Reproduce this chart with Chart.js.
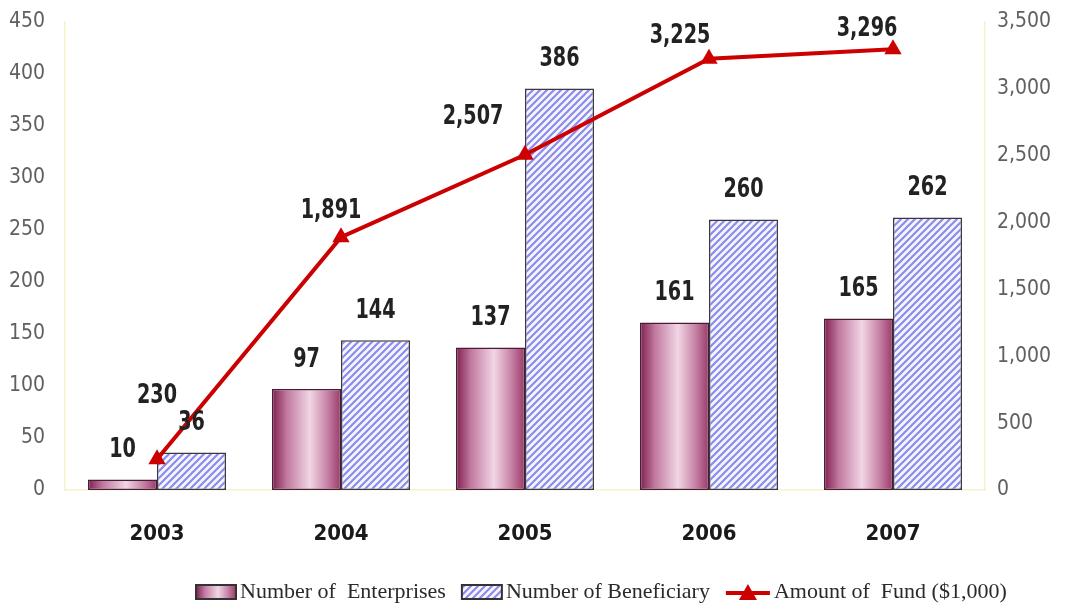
<!DOCTYPE html>
<html>
<head>
<meta charset="utf-8">
<title>Enterprises, Beneficiaries and Fund</title>
<script src="https://cdn.jsdelivr.net/npm/chart.js@4/dist/chart.umd.min.js"></script>
<style>
  html, body { margin: 0; padding: 0; background: #fff; }
  canvas { display: block; }
</style>
</head>
<body>
<canvas id="chart" width="1067" height="612"></canvas>
<script>
const YEARS = ['2003', '2004', '2005', '2006', '2007'];
const ENTERPRISES = [10, 97, 137, 161, 165];
const BENEFICIARIES = [36, 144, 386, 260, 262];
const FUND = [230, 1891, 2507, 3225, 3296];

const NARROW = "'DejaVu Sans Condensed', 'DejaVu Sans', sans-serif";
const SERIF = "'Liberation Serif', 'DejaVu Serif', serif";
const AXIS_LINE = '#f7f2cc';

// diagonal blue hatch used for the beneficiary bars
function makeHatch() {
  const c = document.createElement('canvas');
  c.width = 7;
  c.height = 7;
  const g = c.getContext('2d');
  g.fillStyle = '#f6f6ff';
  g.fillRect(0, 0, 7, 7);
  g.strokeStyle = '#8c8cef';
  g.lineWidth = 2.2;
  g.beginPath();
  g.moveTo(-1, 8); g.lineTo(8, -1);
  g.moveTo(-1, 1); g.lineTo(1, -1);
  g.moveTo(6, 8); g.lineTo(8, 6);
  g.stroke();
  return g.createPattern(c, 'repeat');
}

function fillCylinder(g, x, w) {
  const grad = g.createLinearGradient(x, 0, x + w, 0);
  grad.addColorStop(0, '#7e1f50');
  grad.addColorStop(0.22, '#c27ba0');
  grad.addColorStop(0.55, '#f1d6e5');
  grad.addColorStop(0.8, '#c683a6');
  grad.addColorStop(1, '#9a3a6a');
  return grad;
}

const hatch = makeHatch();

function drawSwatch(g, kind, x, y) {
  if (kind === 'line') {
    g.strokeStyle = '#cc0000';
    g.lineWidth = 4;
    g.beginPath();
    g.moveTo(x, y + 1); g.lineTo(x + 44, y + 1);
    g.stroke();
    g.fillStyle = '#cc0000';
    g.beginPath();
    g.moveTo(x + 22, y - 8); g.lineTo(x + 31, y + 8); g.lineTo(x + 13, y + 8);
    g.closePath();
    g.fill();
    return;
  }
  g.fillStyle = kind === 'cyl' ? fillCylinder(g, x, 40) : hatch;
  g.fillRect(x, y - 7, 40, 14);
  g.strokeStyle = '#333';
  g.lineWidth = 2;
  g.strokeRect(x, y - 7, 40, 14);
}

// legend row under the axis
const legendRow = {
  id: 'legendRow',
  afterDraw(chart, args, opts) {
    const { ctx } = chart;
    const kinds = ['cyl', 'hatch', 'line'];
    ctx.save();
    ctx.font = `22px ${SERIF}`;
    ctx.textBaseline = 'middle';
    let x = opts.x;
    chart.data.datasets.forEach((ds, i) => {
      const sw = kinds[i] === 'line' ? 44 : 40;
      drawSwatch(ctx, kinds[i], x, opts.y);
      x += sw + 4;
      ctx.fillStyle = '#2a2a2a';
      ctx.fillText(ds.label, x, opts.y);
      x += ctx.measureText(ds.label).width + 16;
    });
    ctx.restore();
  },
};

const CAT_PCT = 0.75;

// values written above bars and line points, squeezed horizontally
const valueLabels = {
  id: 'valueLabels',
  afterDatasetsDraw(chart, args, opts) {
    const { ctx } = chart;
    ctx.save();
    ctx.font = `bold 26px ${NARROW}`;
    ctx.fillStyle = '#222';
    ctx.textAlign = 'center';
    ctx.textBaseline = 'middle';
    chart.data.datasets.forEach((ds, di) => {
      const meta = chart.getDatasetMeta(di);
      meta.data.forEach((el, i) => {
        const text = ds.data[i].toLocaleString('en-US');
        let dx = 0;
        let dy = -29;
        if (ds.type === 'line') [dx, dy] = opts.lineOffsets[i];
        ctx.save();
        ctx.translate(el.x + dx, el.y + dy);
        ctx.scale(0.82, 1);
        ctx.fillText(text, 0, 0);
        ctx.restore();
      });
    });
    ctx.restore();
  },
};

// keep the tick padding from pushing the plot area down
function fixVertical(width) {
  return (scale) => {
    scale.width = width;
    scale.paddingTop = 0;
    scale.paddingBottom = 0;
  };
}

new Chart(document.getElementById('chart'), {
  data: {
    labels: YEARS,
    datasets: [
      {
        type: 'bar',
        label: 'Number of  Enterprises',
        data: ENTERPRISES,
        order: 1,
        backgroundColor(ctx) {
          const xs = ctx.chart.scales.x;
          if (!xs || ctx.type !== 'data') return '#b45a88';
          const center = xs.getPixelForValue(ctx.dataIndex);
          const w = (xs.width / YEARS.length) * CAT_PCT / 2;
          if (!Number.isFinite(center) || !Number.isFinite(w) || w <= 0) return '#b45a88';
          return fillCylinder(ctx.chart.ctx, center - w, w);
        },
        borderColor: '#4a1c34',
        borderWidth: 1.5,
        borderSkipped: false,
        categoryPercentage: CAT_PCT,
        barPercentage: 1,
        yAxisID: 'y',
      },
      {
        type: 'bar',
        label: 'Number of Beneficiary',
        data: BENEFICIARIES,
        order: 1,
        backgroundColor: hatch,
        borderColor: '#3a3a3a',
        borderWidth: 1.5,
        borderSkipped: false,
        categoryPercentage: CAT_PCT,
        barPercentage: 1,
        yAxisID: 'y',
      },
      {
        type: 'line',
        label: 'Amount of  Fund ($1,000)',
        data: FUND,
        order: 0,
        borderColor: '#cc0000',
        backgroundColor: '#cc0000',
        borderWidth: 4,
        tension: 0,
        pointStyle: 'triangle',
        pointRadius: 10,
        pointBorderWidth: 0,
        yAxisID: 'y1',
      },
    ],
  },
  options: {
    responsive: false,
    devicePixelRatio: 1,
    animation: false,
    layout: { padding: { top: 22, left: 0, right: 0, bottom: 0 } },
    plugins: {
      tooltip: { enabled: false },
      legend: { display: false },
      legendRow: { x: 196, y: 592 },
      valueLabels: {
        lineOffsets: [[0, -63], [-10, -26], [-52, -38], [-29, -23], [-26, -20]],
      },
    },
    scales: {
      x: {
        grid: { display: false, drawTicks: false },
        border: { display: true, color: AXIS_LINE, width: 1.5 },
        ticks: {
          padding: 31,
          color: '#1a1a1a',
          font: { family: NARROW, size: 22, weight: 'bold' },
        },
        afterFit(scale) { scale.height = 122; },
      },
      y: {
        position: 'left',
        min: 0,
        max: 450,
        grid: { display: false, drawTicks: false },
        border: { display: true, color: AXIS_LINE, width: 1.5 },
        ticks: {
          stepSize: 50,
          padding: 20,
          color: '#606060',
          font: { family: NARROW, size: 21 },
        },
        afterFit: fixVertical(65),
      },
      y1: {
        position: 'right',
        min: 0,
        max: 3500,
        grid: { display: false, drawTicks: false },
        border: { display: true, color: AXIS_LINE, width: 1.5 },
        ticks: {
          stepSize: 500,
          padding: 12,
          color: '#606060',
          font: { family: NARROW, size: 21 },
          callback: (v) => v.toLocaleString('en-US'),
        },
        afterFit: fixVertical(82),
      },
    },
  },
  plugins: [valueLabels, legendRow],
});
</script>
</body>
</html>
